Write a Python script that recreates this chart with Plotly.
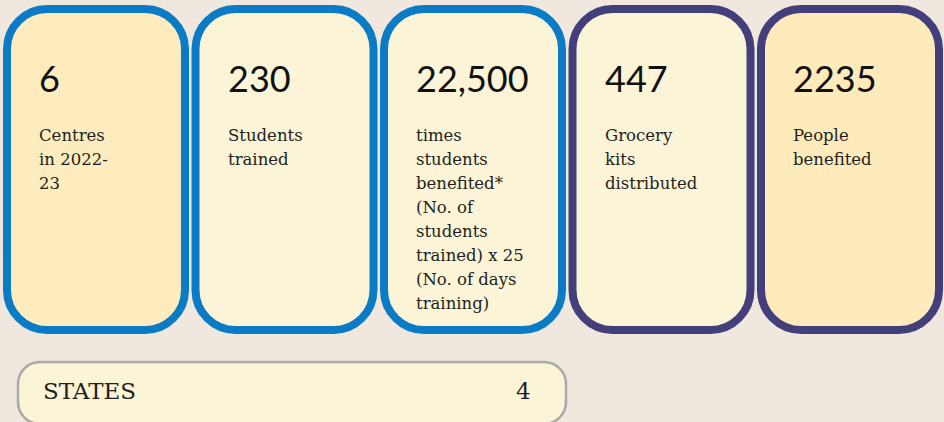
import plotly.graph_objects as go

# card data
values = ["6", "230", "22,500", "447", "2235"]
labels = [
    ["Centres", "in 2022-", "23"],
    ["Students", "trained"],
    ["times", "students", "benefited*", "(No. of", "students", "trained) x 25", "(No. of days", "training)"],
    ["Grocery", "kits", "distributed"],
    ["People", "benefited"],
]
border_colors = ["#0a7bc4", "#0a7bc4", "#0a7bc4", "#433f7b", "#433f7b"]
fill_colors = ["#feecbf", "#fbf4d6", "#fbf4d6", "#fbf4d6", "#ffeabb"]

footer_label = "STATES"
footer_value = "4"

W, H = 944, 422
TEXT = "#231f20"
BG = "#f0e8de"


def rounded_rect(x0, y0, x1, y1, r):
    k = 0.5523 * r
    return (
        f"M {x0 + r},{y0} L {x1 - r},{y0} "
        f"C {x1 - r + k},{y0} {x1},{y0 + r - k} {x1},{y0 + r} "
        f"L {x1},{y1 - r} "
        f"C {x1},{y1 - r + k} {x1 - r + k},{y1} {x1 - r},{y1} "
        f"L {x0 + r},{y1} "
        f"C {x0 + r - k},{y1} {x0},{y1 - r + k} {x0},{y1 - r} "
        f"L {x0},{y0 + r} "
        f"C {x0},{y0 + r - k} {x0 + r - k},{y0} {x0 + r},{y0} Z"
    )


fig = go.Figure()
fig.add_trace(go.Scatter(x=[0, W], y=[0, H], mode="markers",
                         marker=dict(opacity=0), hoverinfo="skip", showlegend=False))

shapes = []
annotations = []

pitch = 188.5
card_w = 186
for i, (val, lines) in enumerate(zip(values, labels)):
    x0 = 3 + i * pitch
    x1 = x0 + card_w
    bw = 8
    shapes.append(dict(
        type="path", xref="x", yref="y",
        path=rounded_rect(x0 + bw / 2, 5 + bw / 2, x1 - bw / 2, 334 - bw / 2, 40),
        fillcolor=fill_colors[i], line=dict(color=border_colors[i], width=bw),
        layer="below",
    ))
    annotations.append(dict(
        x=x0 + 34, y=78, xref="x", yref="y", text=val, showarrow=False,
        xanchor="left", yanchor="middle",
        font=dict(family="Lato", size=36, color="#111111"),
    ))
    for j, line in enumerate(lines):
        annotations.append(dict(
            x=x0 + 34, y=135 + j * 24, xref="x", yref="y", text=line, showarrow=False,
            xanchor="left", yanchor="middle",
            font=dict(family="DejaVu Serif", size=16.5, color=TEXT),
        ))

# footer bar
shapes.append(dict(
    type="path", xref="x", yref="y",
    path=rounded_rect(18, 362, 566, 424, 22),
    fillcolor="#fbf4d6", line=dict(color="#a9a9a9", width=2.5),
    layer="below",
))
annotations.append(dict(
    x=41, y=391, xref="x", yref="y", text=footer_label, showarrow=False,
    xanchor="left", yanchor="middle",
    font=dict(family="DejaVu Serif", size=23, color=TEXT),
))
annotations.append(dict(
    x=533, y=391, xref="x", yref="y", text=footer_value, showarrow=False,
    xanchor="right", yanchor="middle",
    font=dict(family="DejaVu Serif", size=23, color=TEXT),
))

fig.update_layout(
    width=W, height=H,
    margin=dict(l=0, r=0, t=0, b=0),
    paper_bgcolor=BG, plot_bgcolor=BG,
    xaxis=dict(range=[0, W], visible=False, fixedrange=True),
    yaxis=dict(range=[H, 0], visible=False, fixedrange=True),
    shapes=shapes, annotations=annotations,
    showlegend=False,
)

fig.write_html(
    "out.html",
    config={"displayModeBar": False},
    post_script="document.body.style.margin='0';document.body.style.background='" + BG + "';",
)
